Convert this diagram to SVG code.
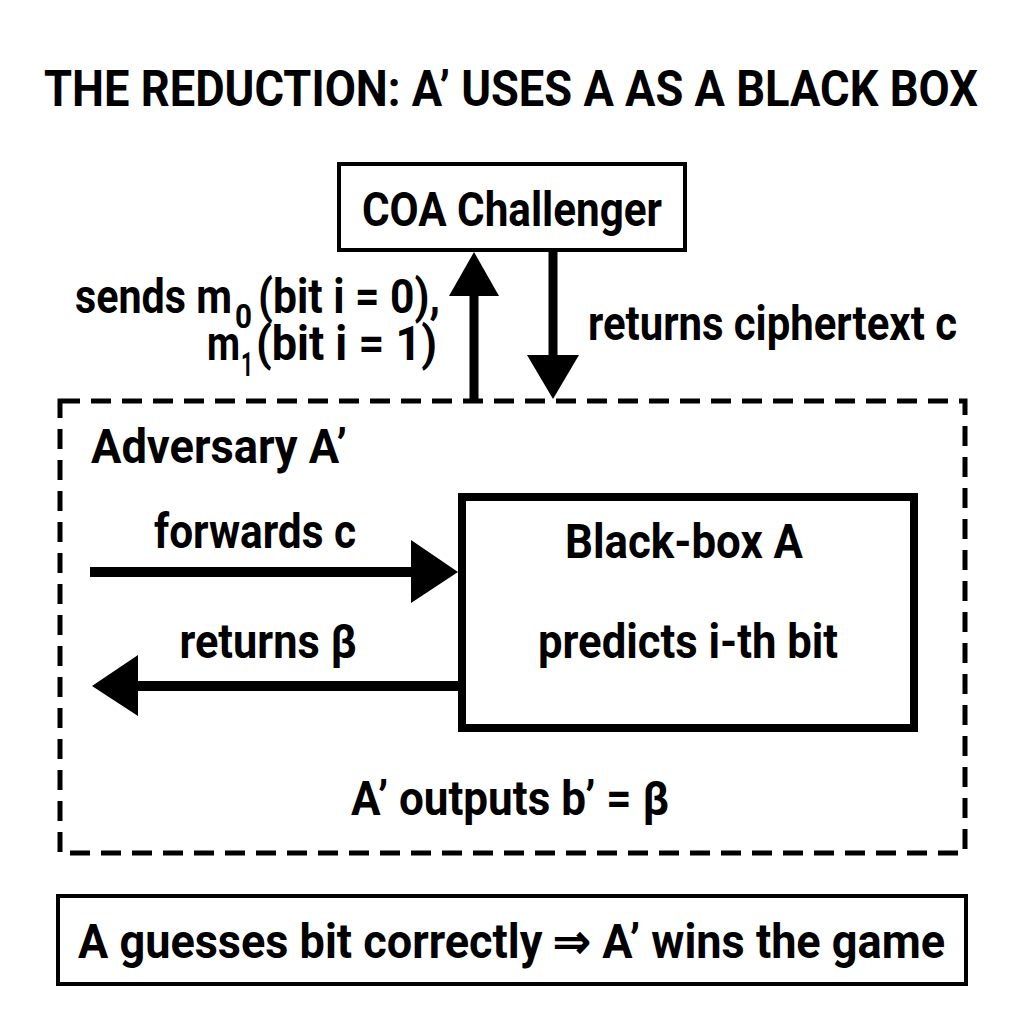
<svg xmlns="http://www.w3.org/2000/svg" width="1024" height="1024" viewBox="0 0 1024 1024">
<style>
text{font-family:Roboto,"Liberation Sans",sans-serif;font-weight:bold;fill:#000;}
.t{font-size:50px;}
.b{font-size:48px;}
.box{fill:#fff;stroke:#000;}
.ln{stroke:#000;fill:none;}
.sub{font-size:34px;}
</style>
<rect width="1024" height="1024" fill="#fff"/>
<text class="t" x="44" y="106" textLength="934" lengthAdjust="spacingAndGlyphs">THE REDUCTION: A’ USES A AS A BLACK BOX</text>

<g id="adversary">
<rect x="60" y="401" width="905" height="452" fill="none" stroke="#000" stroke-width="5" stroke-dasharray="20 11"/>
<text class="b" x="91" y="463" textLength="256" lengthAdjust="spacingAndGlyphs">Adversary A’</text>
<text class="b" x="510" y="815" text-anchor="middle" textLength="318" lengthAdjust="spacingAndGlyphs">A’ outputs b’ = β</text>
</g>

<g id="challenger">
<rect class="box" x="339" y="164" width="346" height="86" stroke-width="4"/>
<text class="b" x="512" y="226" text-anchor="middle" textLength="300" lengthAdjust="spacingAndGlyphs">COA Challenger</text>
</g>

<g id="blackbox">
<rect class="box" x="462" y="497" width="452" height="231" stroke-width="8"/>
<text class="b" x="684" y="558" text-anchor="middle" textLength="238" lengthAdjust="spacingAndGlyphs">Black-box A</text>
<text class="b" x="688" y="658" text-anchor="middle" textLength="300" lengthAdjust="spacingAndGlyphs">predicts i-th bit</text>
</g>

<g id="result">
<rect class="box" x="58" y="896" width="908" height="88" stroke-width="4"/>
<text class="b" x="78" y="958" textLength="867" lengthAdjust="spacingAndGlyphs">A guesses bit correctly ⇒ A’ wins the game</text>
</g>

<g id="connectors">
<line class="ln" x1="474" y1="401" x2="474" y2="292" stroke-width="9"/>
<polygon points="474,252 449,296 499,296" fill="#000"/>
<line class="ln" x1="553" y1="252" x2="553" y2="360" stroke-width="9"/>
<polygon points="553,399 527,355 579,355" fill="#000"/>
<line class="ln" x1="90" y1="572" x2="414" y2="572" stroke-width="10"/>
<polygon points="458,572 411,540 411,603" fill="#000"/>
<line class="ln" x1="458" y1="686" x2="134" y2="686" stroke-width="10"/>
<polygon points="92,686 138,655 138,716" fill="#000"/>
<text class="b" x="75" y="313" textLength="157" lengthAdjust="spacingAndGlyphs">sends m</text>
<text class="sub" x="235" y="328" textLength="17" lengthAdjust="spacingAndGlyphs">0</text>
<text class="b" x="258" y="313" textLength="182" lengthAdjust="spacingAndGlyphs">(bit i = 0),</text>
<text class="b" x="207" y="360" textLength="33" lengthAdjust="spacingAndGlyphs">m</text>
<text class="sub" x="241" y="376" textLength="12" lengthAdjust="spacingAndGlyphs">1</text>
<text class="b" x="256" y="360" textLength="181" lengthAdjust="spacingAndGlyphs">(bit i = 1)</text>
<text class="b" x="588" y="340" textLength="369" lengthAdjust="spacingAndGlyphs">returns ciphertext c</text>
<text class="b" x="255" y="548" text-anchor="middle" textLength="202" lengthAdjust="spacingAndGlyphs">forwards c</text>
<text class="b" x="268" y="658" text-anchor="middle" textLength="177" lengthAdjust="spacingAndGlyphs">returns β</text>
</g>
</svg>
